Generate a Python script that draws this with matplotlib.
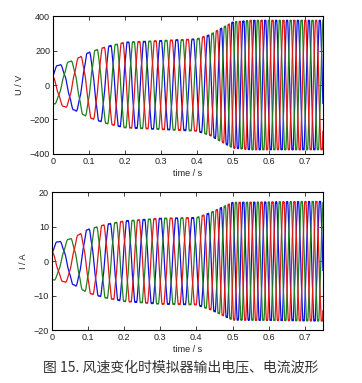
import numpy as np
import matplotlib.pyplot as plt

plt.rcParams['font.family'] = ['Liberation Sans', 'Noto Sans CJK SC', 'DejaVu Sans']

# envelope: time (s) -> frequency (Hz) / peak amplitude
freq_t = [0.0, 0.06, 0.13, 0.185, 0.23, 0.40, 0.45, 0.50, 0.75]
freq_hz = [10.0, 12.0, 16.7, 20.4, 22.0, 22.5, 28.0, 33.0, 33.0]

volt_t = [0.0, 0.02, 0.06, 0.10, 0.15, 0.20, 0.30, 0.40, 0.436, 0.478, 0.50, 0.55, 0.75]
volt_amp = [110, 120, 150, 195, 230, 255, 265, 275, 300, 350, 375, 385, 385]

curr_t = [0.0, 0.03, 0.06, 0.10, 0.15, 0.20, 0.30, 0.40, 0.44, 0.48, 0.50, 0.75]
curr_amp = [5.5, 6.0, 7.0, 9.5, 11.0, 12.0, 12.8, 13.0, 14.5, 16.5, 17.5, 17.8]

phase_colors = ['#1010e0', '#208020', '#e01818']
volt_phase0 = 0.5
curr_phase0 = 0.38

t = np.linspace(0, 0.75, 8000)
f = np.interp(t, freq_t, freq_hz)
theta = 2 * np.pi * np.concatenate([[0], np.cumsum((f[1:] + f[:-1]) / 2 * np.diff(t))])


def three_phase(amp, phase0):
    out = []
    for k in range(3):
        th = theta + phase0 - k * 2 * np.pi / 3
        out.append(amp * (np.sin(th) + 0.04 * np.sin(7 * th)))
    return out


va = np.interp(t, volt_t, volt_amp)
ia = np.interp(t, curr_t, curr_amp)

fig = plt.figure(figsize=(3.62, 3.83), dpi=100)
ax1 = fig.add_axes([0.146, 0.598, 0.746, 0.360])
ax2 = fig.add_axes([0.143, 0.138, 0.749, 0.360])

for ax, waves, ylim, yticks, ylabel in [
    (ax1, three_phase(va, volt_phase0), (-400, 400), [-400, -200, 0, 200, 400], 'U / V'),
    (ax2, three_phase(ia, curr_phase0), (-20, 20), [-20, -10, 0, 10, 20], 'I / A'),
]:
    for w, c in zip(waves, phase_colors):
        ax.plot(t, w, color=c, lw=0.9)
    ax.set_xlim(0, 0.75)
    ax.set_ylim(*ylim)
    ax.set_yticks(yticks)
    ax.set_xticks([0, 0.1, 0.2, 0.3, 0.4, 0.5, 0.6, 0.7])
    ax.set_xticklabels(['0', '0.1', '0.2', '0.3', '0.4', '0.5', '0.6', '0.7'])
    ax.tick_params(direction='in', length=3, width=0.6, top=True, right=True,
                   labelsize=6.5, colors='#222222', pad=2)
    for s in ax.spines.values():
        s.set_linewidth(0.8)
    ax.set_xlabel('time / s', fontsize=6.5, color='#222222', labelpad=2)
    ax.set_ylabel(ylabel, fontsize=6.5, color='#222222', labelpad=4)

fig.text(0.5, 0.040, '图 15. 风速变化时模拟器输出电压、电流波形', ha='center', va='center',
         fontsize=10, color='#333333', family=['Noto Sans CJK SC', 'DejaVu Sans'])

plt.savefig('out.png', dpi=100)
